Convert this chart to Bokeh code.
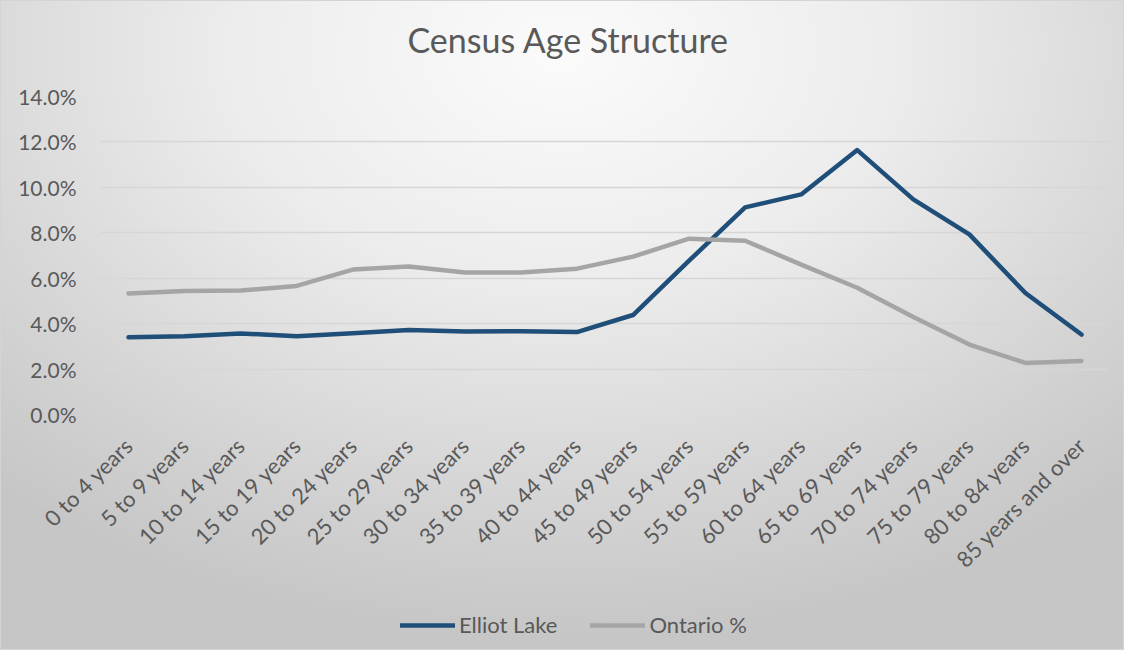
import math
from bokeh.plotting import figure
from bokeh.layouts import column
from bokeh.models import (ColumnDataSource, FactorRange, Range1d, NumeralTickFormatter,
                          FixedTicker, Legend, LegendItem)
from bokeh.embed import file_html
from bokeh.resources import INLINE

categories = ["0 to 4 years", "5 to 9 years", "10 to 14 years", "15 to 19 years",
              "20 to 24 years", "25 to 29 years", "30 to 34 years", "35 to 39 years",
              "40 to 44 years", "45 to 49 years", "50 to 54 years", "55 to 59 years",
              "60 to 64 years", "65 to 69 years", "70 to 74 years", "75 to 79 years",
              "80 to 84 years", "85 years and over"]
elliot_lake = [0.0340, 0.0345, 0.0357, 0.0345, 0.0358, 0.0372, 0.0365, 0.0367, 0.0363,
               0.0438, 0.0677, 0.0912, 0.0969, 0.1164, 0.0947, 0.0793, 0.0535, 0.0352]
ontario = [0.0533, 0.0544, 0.0546, 0.0566, 0.0638, 0.0652, 0.0625, 0.0625, 0.0642,
           0.0695, 0.0774, 0.0765, 0.0660, 0.0558, 0.0429, 0.0308, 0.0227, 0.0236]
y_ticks = [0.0, 0.02, 0.04, 0.06, 0.08, 0.10, 0.12, 0.14]
series_names = ["Elliot Lake", "Ontario %"]
series_colors = ["#1F4E79", "#A5A5A5"]
chart_title = "Census Age Structure"

FONT = "Lato"
TXT = "#595959"

src = ColumnDataSource(dict(cat=categories, el=elliot_lake, on=ontario))
xr = FactorRange(*categories, range_padding=0)


def bare(fig):
    fig.border_fill_alpha = 0
    fig.background_fill_alpha = 0
    fig.outline_line_color = None


# ---- title strip ----
t = figure(width=1124, height=78, x_range=xr, y_range=Range1d(0, 0.14),
           output_backend="svg", toolbar_location=None, title=chart_title,
           x_axis_location=None, y_axis_location=None,
           min_border_left=0, min_border_right=0, min_border_top=0, min_border_bottom=0)
bare(t)
t.grid.visible = False
t.title.align = "left"
t.title.offset = 307
t.title.standoff = 32
t.title.text_font = FONT
t.title.text_font_size = "34px"
t.title.text_font_style = "normal"
t.title.text_color = TXT

# ---- main chart ----
p = figure(width=1124, height=522, x_range=xr, y_range=Range1d(0, 0.14),
           output_backend="svg", toolbar_location=None,
           min_border_left=100, min_border_right=15, min_border_top=18, min_border_bottom=186)
bare(p)

r1 = p.line("cat", "el", source=src, line_color=series_colors[0], line_width=4.5,
            line_cap="round", line_join="round")
r2 = p.line("cat", "on", source=src, line_color=series_colors[1], line_width=4.5,
            line_cap="round", line_join="round")

p.xgrid.grid_line_color = None
p.ygrid.grid_line_color = "#d6d6d6"
p.ygrid.grid_line_width = 1.5
p.ygrid.ticker = FixedTicker(ticks=y_ticks)
p.yaxis.ticker = FixedTicker(ticks=y_ticks)
p.yaxis.formatter = NumeralTickFormatter(format="0.0%")

for ax in (p.xaxis[0], p.yaxis[0]):
    ax.axis_line_color = None
    ax.major_tick_line_color = None
    ax.minor_tick_line_color = None
    ax.major_label_text_font = FONT
    ax.major_label_text_color = TXT

p.yaxis.major_label_text_font_size = "21px"
p.yaxis.major_label_standoff = 18
p.xaxis.major_label_text_font_size = "22px"
p.xaxis.major_label_orientation = math.pi / 4
p.xaxis.major_label_standoff = 21

# ---- legend strip below the chart (same series, legend only) ----
q = figure(width=1124, height=50, x_range=xr, y_range=Range1d(0, 0.14),
           output_backend="svg", toolbar_location=None,
           x_axis_location=None, y_axis_location=None,
           min_border_left=0, min_border_right=0, min_border_top=0, min_border_bottom=0)
bare(q)
q.grid.visible = False
l1 = q.line("cat", "el", source=src, line_color=series_colors[0], line_width=4.5, line_cap="round")
l2 = q.line("cat", "on", source=src, line_color=series_colors[1], line_width=4.5, line_cap="round")
l1.visible = False
l2.visible = False

legend = Legend(items=[LegendItem(label=series_names[0], renderers=[l1]),
                       LegendItem(label=series_names[1], renderers=[l2])],
                orientation="horizontal", location=(300, 12), click_policy="none")
legend.background_fill_alpha = 0
legend.border_line_alpha = 0
legend.label_text_font = FONT
legend.label_text_font_size = "22px"
legend.label_text_color = TXT
legend.glyph_width = 55
legend.label_standoff = 4
legend.spacing = 33
legend.padding = 0
legend.margin = 0
legend.inactive_fill_alpha = 0
q.add_layout(legend, "center")

page = column(t, p, q, spacing=0,
              styles={"background": "radial-gradient(ellipse 75% 90% at 50% 8%, #fbfbfb 0%, #ececec 40%, #d2d2d2 80%, #c6c6c6 100%)",
                      "outline": "1px solid #d4d4d4", "outline-offset": "-1px"})

open("out.html", "w").write(file_html(page, INLINE))
